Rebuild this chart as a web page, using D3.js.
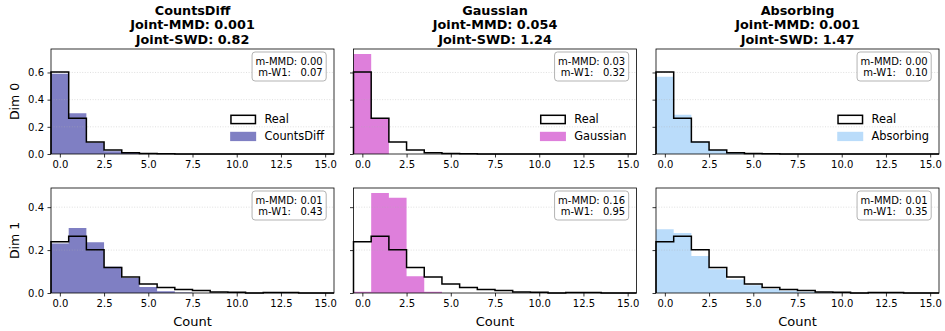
<!DOCTYPE html>
<html><head><meta charset="utf-8">
<script src="https://cdn.jsdelivr.net/npm/d3@7"></script>
<style>
body{margin:0;background:#fff;}
text{font-family:"DejaVu Sans",sans-serif;fill:#000;}
</style></head>
<body><svg id="chart" width="945" height="331"></svg>
<script>
// ---------- data ----------
const counts = [0,1,2,3,4,5,6,7,8,9,10,11,12,13,14,15];
const xTicks = [0, 2.5, 5, 7.5, 10, 12.5, 15];
const yTicksDim0 = [0, 0.2, 0.4, 0.6];
const yTicksDim1 = [0, 0.2, 0.4];
const dims = ["Dim 0", "Dim 1"];
const models = ["CountsDiff", "Gaussian", "Absorbing"];
const jointMMD = ["0.001", "0.054", "0.001"];
const jointSWD = ["0.82", "1.24", "1.47"];
const mMMD = [["0.00", "0.01"], ["0.03", "0.16"], ["0.00", "0.01"]];
const mW1  = [["0.07", "0.43"], ["0.32", "0.95"], ["0.10", "0.35"]];
const colors = ["#7f7fc3", "#de7fdb", "#badcfa"];

const realDim0 = [0.603, 0.263, 0.089, 0.030, 0.010, 0.004, 0.001, 0, 0, 0, 0, 0, 0, 0, 0, 0];
const realDim1 = [0.239, 0.264, 0.201, 0.119, 0.074, 0.042, 0.026, 0.016, 0.012, 0.005, 0.003, 0, 0.002, 0.002, 0, 0];
const countsDiffDim0 = [0.590, 0.300, 0.085, 0.020, 0.007, 0.005, 0, 0, 0, 0, 0, 0, 0, 0, 0, 0];
const countsDiffDim1 = [0.231, 0.303, 0.236, 0.122, 0.070, 0.028, 0.008, 0.002, 0, 0, 0, 0, 0, 0, 0, 0];
const gaussianDim0 = [0.736, 0.264, 0, 0, 0, 0, 0, 0, 0, 0, 0, 0, 0, 0, 0, 0];
const gaussianDim1 = [0.006, 0.466, 0.444, 0.078, 0.006, 0, 0, 0, 0, 0, 0, 0, 0, 0, 0, 0];
const absorbingDim0 = [0.568, 0.288, 0.092, 0.030, 0.012, 0.006, 0.002, 0, 0, 0, 0, 0, 0, 0, 0, 0];
const absorbingDim1 = [0.297, 0.280, 0.173, 0.111, 0.063, 0.036, 0.019, 0.011, 0.006, 0.002, 0.001, 0, 0.001, 0, 0, 0];

const realData = [realDim0, realDim1];
const genData = [[countsDiffDim0, countsDiffDim1], [gaussianDim0, gaussianDim1], [absorbingDim0, absorbingDim1]];
const yTicks = [yTicksDim0, yTicksDim1];

// ---------- layout ----------
const colLeft = [51, 353.5, 656];
const colW = 283;
const rowTop = [49, 188];
const rowH = 105;

const svg = d3.select("#chart");

// shared y domain per row (matplotlib sharey with 5% margin)
const yMax = [0, 1].map(r => 1.05 * d3.max([realData[r], ...genData.map(g => g[r])].flat()));

models.forEach((m, c) => {
  const cx = colLeft[c] + colW / 2;
  [m, "Joint-MMD: " + jointMMD[c], "Joint-SWD: " + jointSWD[c]].forEach((t, i) => {
    svg.append("text").attr("x", cx).attr("y", 15 + i * 14.3)
      .attr("text-anchor", "middle").attr("font-weight", "bold").attr("font-size", "12.8px").text(t);
  });

  [0, 1].forEach(r => {
    const g = svg.append("g").attr("transform", `translate(${colLeft[c]},${rowTop[r]})`);
    const x = d3.scaleLinear().domain([-0.5, 15.5]).range([0, colW]);
    const y = d3.scaleLinear().domain([0, yMax[r]]).range([rowH, 0]);

    // generated bars drawn as one stepped area (no seams between bins)
    const gen = genData[c][r];
    const gpts = [[-0.5, 0]];
    counts.forEach(k => { gpts.push([k - 0.5, gen[k]]); gpts.push([k + 0.5, gen[k]]); });
    gpts.push([15.5, 0]);
    g.append("path").attr("d", d3.line().x(d => x(d[0])).y(d => y(d[1]))(gpts) + "Z")
      .attr("fill", colors[c]).attr("stroke", "none");

    // grid
    g.selectAll("line.grid").data(yTicks[r].filter(v => v > 0)).enter().append("line")
      .attr("x1", 0).attr("x2", colW).attr("y1", d => y(d)).attr("y2", d => y(d))
      .attr("stroke", "#b0b0b0").attr("stroke-opacity", 0.5).attr("stroke-width", 0.8)
      .attr("stroke-dasharray", "1,1.6");

    // real step
    const real = realData[r];
    const pts = [[-0.5, 0]];
    counts.forEach(k => { pts.push([k - 0.5, real[k]]); pts.push([k + 0.5, real[k]]); });
    pts.push([15.5, 0]);
    g.append("path").attr("d", d3.line().x(d => x(d[0])).y(d => y(d[1]))(pts))
      .attr("fill", "none").attr("stroke", "#000").attr("stroke-width", 1.5).attr("stroke-linejoin", "miter");

    // axes
    const xa = g.append("g").attr("transform", `translate(0,${rowH})`)
      .call(d3.axisBottom(x).tickValues(xTicks).tickFormat(d3.format(".1f")).tickSizeOuter(0).tickSize(3.5).tickPadding(3.5));
    xa.selectAll("text").attr("font-size", "10px").attr("font-family", "DejaVu Sans");
    const ya = g.append("g")
      .call(d3.axisLeft(y).tickValues(yTicks[r]).tickFormat(c === 0 ? d3.format(".1f") : () => "").tickSizeOuter(0).tickSize(3.5).tickPadding(3.5));
    ya.selectAll("text").attr("font-size", "10px").attr("font-family", "DejaVu Sans");
    [xa, ya].forEach(a => { a.select(".domain").remove(); a.selectAll("line").attr("stroke", "#000").attr("stroke-width", 0.8); });

    // frame
    g.append("rect").attr("x", 0).attr("y", 0).attr("width", colW).attr("height", rowH)
      .attr("fill", "none").attr("stroke", "#000").attr("stroke-width", 0.8);

    // metrics box
    const bx = g.append("g");
    const t1 = bx.append("text").attr("x", colW - 11.3).attr("y", 15.5).attr("text-anchor", "end")
      .attr("font-size", "10px").text("m-MMD: " + mMMD[c][r]);
    const t2 = bx.append("text").attr("x", colW - 11.3).attr("y", 26.8).attr("text-anchor", "end")
      .attr("font-size", "10px").text("m-W1:   " + mW1[c][r]).attr("xml:space", "preserve").style("white-space", "pre");
    const b1 = t1.node().getBBox(), b2 = t2.node().getBBox();
    const left = Math.min(b1.x, b2.x) - 3.5;
    bx.insert("rect", "text").attr("x", left).attr("y", 3).attr("width", colW - 11.3 + 3.5 - left).attr("height", 29)
      .attr("rx", 3).attr("fill", "#fff").attr("fill-opacity", 0.8).attr("stroke", "#aaa").attr("stroke-width", 0.9);

    // legend (top row only)
    if (r === 0) {
      const lg = g.append("g");
      const labels = ["Real", m];
      const txts = labels.map((l, i) => lg.append("text").attr("y", 74 + i * 17).attr("font-size", "11.4px").text(l));
      const tw = d3.max(txts.map(t => t.node().getComputedTextLength()));
      const labX = colW - 10 - tw;
      txts.forEach(t => t.attr("x", labX));
      lg.append("rect").attr("x", labX - 33.5).attr("y", 66.3).attr("width", 24.5).attr("height", 8.3)
        .attr("fill", "#fff").attr("stroke", "#000").attr("stroke-width", 1.5);
      lg.append("rect").attr("x", labX - 34.3).attr("y", 82.8).attr("width", 26).attr("height", 9.3)
        .attr("fill", colors[c]);
    }

    if (c === 0) {
      svg.append("text").attr("transform", `translate(19,${rowTop[r] + rowH / 2}) rotate(-90)`)
        .attr("text-anchor", "middle").attr("font-size", "12.5px").text(dims[r]);
    }
    if (r === 1) {
      svg.append("text").attr("x", colLeft[c] + colW / 2).attr("y", 326)
        .attr("text-anchor", "middle").attr("font-size", "13px").text("Count");
    }
  });
});
</script></body></html>
